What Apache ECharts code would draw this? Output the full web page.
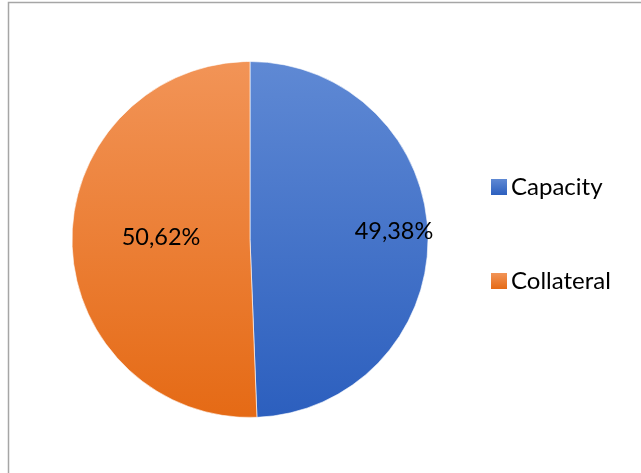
<!DOCTYPE html>
<html>
<head>
<meta charset="utf-8">
<script src="https://cdn.jsdelivr.net/npm/echarts@6/dist/echarts.min.js"></script>
<style>
  html, body { margin: 0; padding: 0; background: #fff; }
  #chart { width: 641px; height: 473px; }
</style>
</head>
<body>
<div id="chart"></div>
<script>
const categories = ['Capacity', 'Collateral']
const values = [49.38, 50.62]
const colorTop = ['#5f89d4', '#f29457']
const colorBottom = ['#2c5fbe', '#e56a15']
const labelOffsets = [[52, -6], [3, -4]]

const grad = (i) => new echarts.graphic.LinearGradient(0, 0, 0, 1, [
  { offset: 0, color: colorTop[i] },
  { offset: 1, color: colorBottom[i] }
])

const chart = echarts.init(document.getElementById('chart'))
chart.setOption({
  animation: false,
  graphic: [{
    type: 'rect',
    shape: { x: 8.5, y: 2.5, width: 700, height: 520 },
    style: { fill: 'none', stroke: '#a6a6a6', lineWidth: 1.5 }
  }],
  legend: {
    orient: 'vertical',
    left: 486,
    top: 170,
    itemWidth: 16,
    itemHeight: 16,
    itemGap: 70,
    icon: 'rect',
    itemStyle: { borderWidth: 0 },
    textStyle: { fontFamily: 'Lato', fontSize: 24, color: '#000', padding: [0, 0, 0, -1] },
    data: categories
  },
  series: [{
    type: 'pie',
    center: [250, 239.5],
    radius: 178,
    startAngle: 90,
    clockwise: true,
    itemStyle: { borderColor: '#fff', borderWidth: 0.6 },
    label: {
      position: 'inside',
      fontFamily: 'Lato',
      fontSize: 23.5,
      color: '#000',
      formatter: (p) => p.value.toFixed(2).replace('.', ',') + '%'
    },
    labelLine: { show: false },
    emphasis: { disabled: true },
    data: categories.map((name, i) => ({
      name,
      value: values[i],
      itemStyle: { color: grad(i) },
      label: { offset: labelOffsets[i] }
    }))
  }]
})
</script>
</body>
</html>
